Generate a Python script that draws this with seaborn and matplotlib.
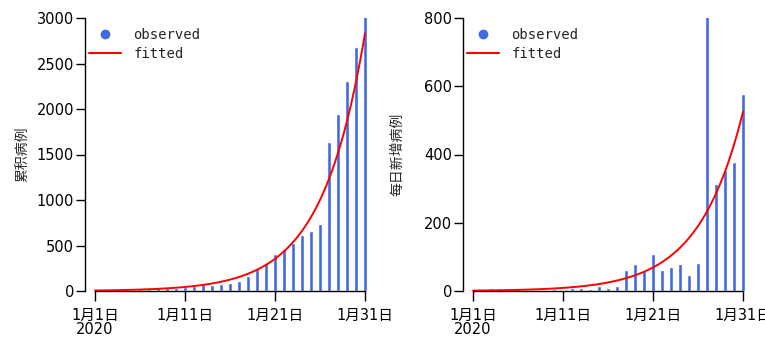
import numpy as np
import pandas as pd
import matplotlib
matplotlib.use("Agg")
import matplotlib.pyplot as plt
from matplotlib.lines import Line2D
import seaborn as sns

# January 2020 case counts
days = list(range(1, 32))
cumulative = [0, 0, 8, 16, 16, 24, 26, 30, 32, 37, 40, 58, 77, 66, 80, 91, 106, 165,
              238, 304, 410, 465, 531, 615, 663, 740, 1634, 1945, 2304, 2678, 3254]
daily_new = [0, 0, 8, 8, 0, 8, 2, 4, 2, 5, 3, 10, 10, 6, 16, 9, 16, 61,
             80, 61, 109, 61, 71, 79, 47, 81, 894, 315, 356, 379, 576]

tick_days = [1, 11, 21, 31]
tick_labels = ["1月1日\n2020", "1月11日", "1月21日", "1月31日"]

# exponential model parameters: value = a * exp(r * (day - 1))
fit_cum = (5.52, 0.208)
fit_new = (1.19, 0.203)

sns.set_theme(style="ticks")
plt.rcParams["font.family"] = ["DejaVu Sans", "Noto Sans CJK SC"]

df = pd.DataFrame({"day": days, "cumulative": cumulative, "daily_new": daily_new})

W, H = 765, 337
fig = plt.figure(figsize=(W / 100, H / 100), dpi=100)

panels = [
    ("cumulative", "累积病例", fit_cum, 3000, [0, 500, 1000, 1500, 2000, 2500, 3000], 85, 5),
    ("daily_new", "每日新增病例", fit_new, 800, [0, 200, 400, 600, 800], 463, 14),
]

px_per_day = 9.0
for col, ylabel, (a, r), ymax, yticks, x0, lpad in panels:
    ax = fig.add_axes([x0 / W, (H - 291) / H, 285 / W, 273 / H])
    ax.bar(df["day"], df[col], width=0.45, color="#4169E1", zorder=2)
    xs = np.linspace(1, 31, 200)
    sns.lineplot(x=xs, y=a * np.exp(r * (xs - 1)), color="red", lw=1.4, ax=ax, zorder=3)
    ax.set_xlim(1 - 10 / px_per_day, 1 - 10 / px_per_day + 285 / px_per_day)
    ax.set_ylim(0, ymax)
    ax.set_yticks(yticks)
    ax.set_xticks(tick_days)
    ax.set_xticklabels(tick_labels, va="top", linespacing=0.95)
    ax.set_ylabel(ylabel, fontsize=10, labelpad=lpad,
                  family=["Noto Sans CJK SC", "DejaVu Sans"])
    for s in ["top", "right"]:
        ax.spines[s].set_visible(False)
    ax.spines["bottom"].set_bounds(1, 31)
    ax.spines["left"].set_bounds(0, ymax)
    for s in ["left", "bottom"]:
        ax.spines[s].set_color("black")
        ax.spines[s].set_linewidth(1.0)
    ax.tick_params(axis="both", colors="black", labelsize=10.5, width=1.0)
    ax.tick_params(axis="y", length=6.5, pad=1.5)
    ax.tick_params(axis="x", length=7, pad=5)
    handles = [
        Line2D([], [], marker="o", linestyle="none", color="#4169E1", markersize=6),
        Line2D([], [], color="red", lw=1.5),
    ]
    ax.legend(handles, ["observed", "fitted"], loc="upper left", frameon=False,
              bbox_to_anchor=(-0.03, 1.01), handlelength=2.3, handletextpad=0.9,
              labelspacing=0.35, prop={"family": "DejaVu Sans Mono", "size": 10})

fig.savefig("out.png", dpi=100)
